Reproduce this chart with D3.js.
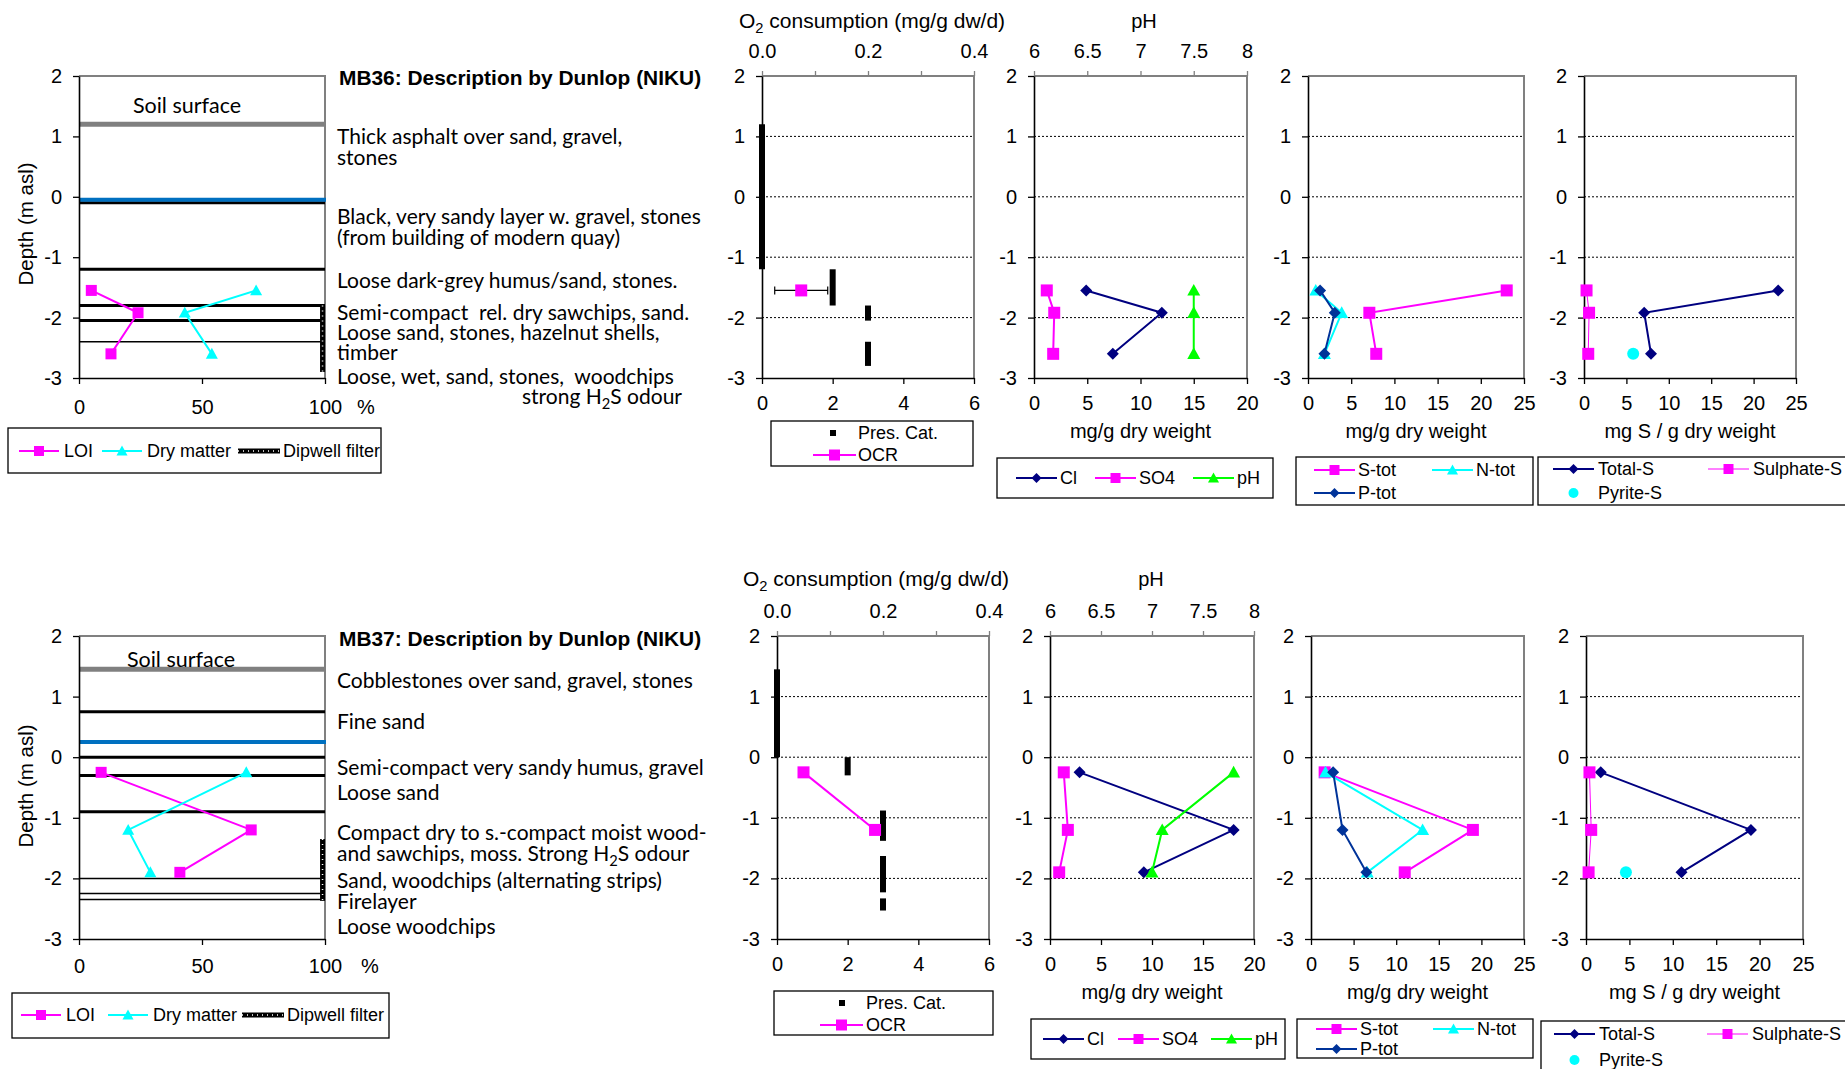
<!DOCTYPE html>
<html>
<head>
<meta charset="utf-8">
<script src="https://cdn.jsdelivr.net/npm/d3@7"></script>
<style>
body { margin: 0; background: #fff; }
text { fill: #000; }
</style>
</head>
<body>
<div id="chart"></div>
<script>
var width = 1845;
var height = 1069;

var ARIAL = "'Liberation Sans', Arial, sans-serif";
var CALIBRI = "Lato, 'Open Sans', sans-serif";

// Shared ticks
var depthTicks = [2, 1, 0, -1, -2, -3];
var gridDepths = [1, 0, -1, -2];
var percentTicks = [0, 50, 100];
var presTicks = [0, 2, 4, 6];
var o2Ticks = [0, 0.1, 0.2, 0.3, 0.4];
var o2Labels = [0, 0.2, 0.4];
var pHTicks = [6, 6.5, 7, 7.5, 8];
var ionTicks = [0, 5, 10, 15, 20];
var nutTicks = [0, 5, 10, 15, 20, 25];

// ---- MB36 ----
var mb36Depth = [-1.55, -1.92, -2.6];
var mb36LOI = [5, 24, 13];
var mb36DryMatter = [72, 43, 54];
var mb36OCR = [0.074];
var mb36OCRDepth = [-1.55];
var mb36OCRError = [0.05];
var mb36PresCat = [0, 2, 3, 3];
var mb36PresFrom = [1.2, -1.2, -1.8, -2.4];
var mb36PresTo = [-1.2, -1.8, -2.05, -2.8];
var mb36Cl = [4.9, 12, 7.4];
var mb36SO4 = [1.2, 1.9, 1.8];
var mb36pH = [7.5, 7.5, 7.5];
var mb36Stot = [23, 7.1, 7.9];
var mb36Ntot = [0.9, 3.9, 1.9];
var mb36Ptot = [1.4, 3.1, 1.9];
var mb36TotalS = [22.9, 7.1, 7.9];
var mb36SulphateS = [0.3, 0.6, 0.5];
var mb36PyriteS = [null, null, 5.8];
var mb36Surface = 1.2;
var mb36Water = -0.05;
var mb36MajorLayers = [-0.1, -1.2, -1.8, -2.05];
var mb36MinorLayers = [-2.4];
var mb36Dipwell = [-1.8, -2.9];
var mb36SurfaceLabel = 1.52;
var mb36Desc = ["Thick asphalt over sand, gravel,", "stones",
    "Black, very sandy layer w. gravel, stones", "(from building of modern quay)",
    "Loose dark-grey humus/sand, stones.", "Semi-compact  rel. dry sawchips, sand.",
    "Loose sand, stones, hazelnut shells,", "timber",
    "Loose, wet, sand, stones,  woodchips", "strong H_2S odour"];
var mb36DescDepth = [0.99, 0.64, -0.33, -0.67, -1.38, -1.91, -2.25, -2.58, -2.98, -3.31];

// ---- MB37 ----
var mb37Depth = [-0.25, -1.2, -1.9];
var mb37LOI = [9, 70, 41];
var mb37DryMatter = [68, 20, 29];
var mb37OCR = [0.05, 0.185];
var mb37OCRDepth = [-0.25, -1.2];
var mb37OCRError = [0, 0];
var mb37PresCat = [0, 2, 3, 3, 3];
var mb37PresFrom = [1.45, 0, -0.88, -1.63, -2.33];
var mb37PresTo = [0, -0.3, -1.38, -2.23, -2.53];
var mb37Cl = [2.9, 18, 9.2];
var mb37SO4 = [1.35, 1.75, 0.9];
var mb37pH = [7.8, 7.1, 7.0];
var mb37Stot = [1.6, 19, 11];
var mb37Ntot = [1.7, 13.1, 6.6];
var mb37Ptot = [2.6, 3.7, 6.5];
var mb37TotalS = [1.7, 19, 11];
var mb37SulphateS = [0.4, 0.6, 0.3];
var mb37PyriteS = [null, null, 4.6];
var mb37Surface = 1.45;
var mb37Water = 0.25;
var mb37MajorLayers = [0.75, 0, -0.3, -0.9];
var mb37MinorLayers = [-2.0, -2.25, -2.35];
var mb37Dipwell = [-1.35, -2.37];
var mb37SurfaceLabel = 1.62;
var mb37Desc = ["Cobblestones over sand, gravel, stones", "Fine sand",
    "Semi-compact very sandy humus, gravel", "Loose sand",
    "Compact dry to s.-compact moist wood-", "and sawchips, moss. Strong H_2S odour",
    "Sand, woodchips (alternating strips)", "Firelayer", "Loose woodchips"];
var mb37DescDepth = [1.26, 0.59, -0.18, -0.59, -1.24, -1.59, -2.04, -2.38, -2.79];

var boreholes = [
    { title: "MB36: Description by Dunlop (NIKU)", depth: mb36Depth, loi: mb36LOI, dry: mb36DryMatter,
      ocr: mb36OCR, ocrDepth: mb36OCRDepth, ocrErr: mb36OCRError,
      presCat: mb36PresCat, presFrom: mb36PresFrom, presTo: mb36PresTo,
      cl: mb36Cl, so4: mb36SO4, ph: mb36pH, stot: mb36Stot, ntot: mb36Ntot, ptot: mb36Ptot,
      totalS: mb36TotalS, sulphateS: mb36SulphateS, pyriteS: mb36PyriteS,
      surface: mb36Surface, water: mb36Water, major: mb36MajorLayers, minor: mb36MinorLayers,
      dipwell: mb36Dipwell, surfaceLabel: mb36SurfaceLabel, desc: mb36Desc, descDepth: mb36DescDepth },
    { title: "MB37: Description by Dunlop (NIKU)", depth: mb37Depth, loi: mb37LOI, dry: mb37DryMatter,
      ocr: mb37OCR, ocrDepth: mb37OCRDepth, ocrErr: mb37OCRError,
      presCat: mb37PresCat, presFrom: mb37PresFrom, presTo: mb37PresTo,
      cl: mb37Cl, so4: mb37SO4, ph: mb37pH, stot: mb37Stot, ntot: mb37Ntot, ptot: mb37Ptot,
      totalS: mb37TotalS, sulphateS: mb37SulphateS, pyriteS: mb37PyriteS,
      surface: mb37Surface, water: mb37Water, major: mb37MajorLayers, minor: mb37MinorLayers,
      dipwell: mb37Dipwell, surfaceLabel: mb37SurfaceLabel, desc: mb37Desc, descDepth: mb37DescDepth }
];

// Layout for each row
var layouts = [
    { top: 76, bottom: 378, profile: [79, 325], o2: [762, 974], ph: [1034, 1247], nut: [1308, 1524], sul: [1584, 1796],
      titleY: 78, surfaceX: 187, depthLabelY: 224, pctPad: 16, pctX: 357, headY: 21, o2TitleX: 872, phTitleX: 1144, xTitleY: 431,
      profLegend: { box: [8, 428, 373, 45], y: 451, xs: [19, 102, 238] },
      o2Legend: { box: [771, 421, 202, 45], ys: [433, 455], mx: 833, tx: 858, line: [813, 856] },
      phLegend: { box: [997, 458, 276, 40], y: 478, xs: [1016, 1095, 1193] },
      nutLegend: { box: [1296, 457, 237, 48], ys: [470, 493], xs: [1314, 1432] },
      sulLegend: { box: [1538, 457, 320, 48], ys: [469, 493], xs: [1553, 1708] } },
    { top: 636, bottom: 939, profile: [79, 325], o2: [777, 989], ph: [1050, 1254], nut: [1311, 1524], sul: [1586, 1803],
      titleY: 639, surfaceX: 181, depthLabelY: 786, pctPad: 14, pctX: 361, headY: 579, o2TitleX: 876, phTitleX: 1151, xTitleY: 992,
      profLegend: { box: [12, 993, 377, 45], y: 1015, xs: [21, 108, 242] },
      o2Legend: { box: [774, 991, 219, 44], ys: [1003, 1025], mx: 842, tx: 866, line: [820, 863] },
      phLegend: { box: [1031, 1019, 254, 40], y: 1039, xs: [1043, 1118, 1211] },
      nutLegend: { box: [1297, 1019, 236, 39], ys: [1029, 1049], xs: [1316, 1433] },
      sulLegend: { box: [1541, 1021, 320, 60], ys: [1034, 1060], xs: [1554, 1707] } }
];

var MAGENTA = "#ff00ff", CYAN = "#00ffff", NAVY = "#000080", GREEN = "#00ff00",
    PBLUE = "#003399", WATER = "#0070c0", GRAY = "#808080";

var svg = d3.select("#chart").append("svg")
    .attr("width", width)
    .attr("height", height)
    .style("background", "#fff");

boreholes.forEach(function(b, i) {
    drawRow(b, layouts[i]);
});

/* ------------------ helpers ------------------ */

function translate(x, y) {
    return "translate(" + x + "," + y + ")";
}

function shapePath(shape, s) {
    if (shape == "square") {
        return "M" + (-s) + "," + (-s) + "h" + (2 * s) + "v" + (2 * s) + "h" + (-2 * s) + "Z";
    }
    if (shape == "diamond") {
        return "M0," + (-s) + "L" + s + ",0L0," + s + "L" + (-s) + ",0Z";
    }
    if (shape == "triangle") {
        return "M0," + (-s) + "L" + s + "," + (s * 0.8) + "L" + (-s) + "," + (s * 0.8) + "Z";
    }
    return d3.symbol(d3.symbolCircle, Math.PI * s * s)();
}

// text with "_2" meaning a subscript 2
function richText(sel, str) {
    var parts = str.split("_2");
    parts.forEach(function(p, i) {
        if (i > 0) {
            sel.append("tspan").attr("dy", 5).attr("font-size", "0.7em").text("2");
        }
        sel.append("tspan").attr("dy", i > 0 ? -5 : null).text(p);
    });
    return sel;
}

function drawSeries(g, x, y, values, depths, color, shape, size, lw) {
    var pts = [];
    values.forEach(function(v, i) {
        if (v != null) pts.push([x(v), y(depths[i])]);
    });
    if (lw > 0 && pts.length > 1) {
        g.append("path")
            .attr("d", d3.line()(pts))
            .attr("fill", "none")
            .attr("stroke", color)
            .attr("stroke-width", lw);
    }
    g.selectAll(null).data(pts).enter().append("path")
        .attr("transform", function(d) { return translate(d[0], d[1]); })
        .attr("d", shapePath(shape, size))
        .attr("fill", color);
}

function styleAxis(ax, size) {
    ax.attr("font-family", ARIAL).attr("font-size", size || 20);
    ax.selectAll("text").attr("fill", "#000");
    ax.selectAll(".tick line").attr("stroke", "#000").attr("stroke-width", 1.3);
    ax.select(".domain").attr("stroke", "#000").attr("stroke-width", 1.6);
    return ax;
}

function fmt(d) { return String(d); }

// plot frame with dotted grid, gray top/right border, black left axis and bottom axis
function frame(g, x, y, xTicks, grid) {
    var x0 = x.range()[0], x1 = x.range()[1], y0 = y.range()[0], y1 = y.range()[1];
    if (grid) {
        g.selectAll(null).data(gridDepths).enter().append("line")
            .attr("x1", x0).attr("x2", x1)
            .attr("y1", function(d) { return y(d); })
            .attr("y2", function(d) { return y(d); })
            .attr("stroke", "#000")
            .attr("stroke-width", 1)
            .attr("stroke-dasharray", "2,2");
    }
    g.append("path")
        .attr("d", "M" + x0 + "," + y0 + "H" + x1 + "V" + y1)
        .attr("fill", "none")
        .attr("stroke", GRAY)
        .attr("stroke-width", 2);
    styleAxis(g.append("g").attr("transform", translate(x0, 0))
        .call(d3.axisLeft(y).tickValues(depthTicks).tickSize(6).tickPadding(11).tickSizeOuter(0).tickFormat(fmt)));
    return styleAxis(g.append("g").attr("transform", translate(0, y1))
        .call(d3.axisBottom(x).tickValues(xTicks).tickSize(6).tickPadding(12).tickSizeOuter(0).tickFormat(fmt)));
}

function legendBox(g, box) {
    g.append("rect")
        .attr("x", box[0]).attr("y", box[1])
        .attr("width", box[2]).attr("height", box[3])
        .attr("fill", "#fff")
        .attr("stroke", "#000")
        .attr("stroke-width", 1.3);
}

function legendItem(g, x, y, label, color, shape, size, lineLen, lw, textGap, fontSize) {
    if (lineLen > 0) {
        g.append("line")
            .attr("x1", x).attr("x2", x + lineLen)
            .attr("y1", y).attr("y2", y)
            .attr("stroke", color)
            .attr("stroke-width", lw);
    }
    if (shape) {
        g.append("path")
            .attr("transform", translate(x + lineLen / 2, y))
            .attr("d", shapePath(shape, size))
            .attr("fill", color);
    }
    g.append("text")
        .attr("x", x + lineLen + textGap)
        .attr("y", y)
        .attr("dy", "0.35em")
        .attr("font-family", ARIAL)
        .attr("font-size", fontSize || 18)
        .text(label);
}

function xTitle(g, x, y, label) {
    g.append("text")
        .attr("x", (x.range()[0] + x.range()[1]) / 2)
        .attr("y", y)
        .attr("dy", "0.35em")
        .attr("text-anchor", "middle")
        .attr("font-family", ARIAL)
        .attr("font-size", 20)
        .text(label);
}

/* ------------------ a row of panels ------------------ */

function drawRow(b, L) {
    var g = svg.append("g");
    var y = d3.scaleLinear().domain([2, -3]).range([L.top, L.bottom]);

    drawProfile(g, b, L, y);
    drawO2(g, b, L, y);
    drawIons(g, b, L, y);
    drawNutrients(g, b, L, y);
    drawSulphur(g, b, L, y);
}

function drawProfile(g, b, L, y) {
    var x = d3.scaleLinear().domain([0, 100]).range(L.profile);
    var x0 = L.profile[0], x1 = L.profile[1];

    // border
    g.append("path")
        .attr("d", "M" + x0 + "," + y(2) + "H" + x1 + "V" + y(-3))
        .attr("fill", "none")
        .attr("stroke", GRAY)
        .attr("stroke-width", 2);

    // layer boundaries
    g.selectAll(null).data(b.minor).enter().append("line")
        .attr("x1", x0).attr("x2", x1)
        .attr("y1", function(d) { return y(d); }).attr("y2", function(d) { return y(d); })
        .attr("stroke", "#000").attr("stroke-width", 1.5);
    g.selectAll(null).data(b.major).enter().append("line")
        .attr("x1", x0).attr("x2", x1)
        .attr("y1", function(d) { return y(d); }).attr("y2", function(d) { return y(d); })
        .attr("stroke", "#000").attr("stroke-width", 3);
    g.append("line")
        .attr("x1", x0).attr("x2", x1 + 1)
        .attr("y1", y(b.water)).attr("y2", y(b.water))
        .attr("stroke", WATER).attr("stroke-width", 4);
    g.append("line")
        .attr("x1", x0).attr("x2", x1 + 1)
        .attr("y1", y(b.surface)).attr("y2", y(b.surface))
        .attr("stroke", GRAY).attr("stroke-width", 5);

    // axes
    styleAxis(g.append("g").attr("transform", translate(x0, 0))
        .call(d3.axisLeft(y).tickValues(depthTicks).tickSize(6).tickPadding(11).tickSizeOuter(0).tickFormat(fmt)));
    styleAxis(g.append("g").attr("transform", translate(0, y(-3)))
        .call(d3.axisBottom(x).tickValues(percentTicks).tickSize(6).tickPadding(L.pctPad).tickSizeOuter(0).tickFormat(fmt)));
    g.append("text")
        .attr("x", L.pctX).attr("y", y(-3) + 6 + L.pctPad)
        .attr("dy", "0.71em")
        .attr("font-family", ARIAL).attr("font-size", 20)
        .text("%");

    g.append("text")
        .attr("transform", translate(26, L.depthLabelY) + " rotate(-90)")
        .attr("dy", "0.35em")
        .attr("text-anchor", "middle")
        .attr("font-family", ARIAL).attr("font-size", 20.5)
        .text("Depth (m asl)");

    // dipwell filter
    g.append("line")
        .attr("x1", x(99)).attr("x2", x(99))
        .attr("y1", y(b.dipwell[0])).attr("y2", y(b.dipwell[1]))
        .attr("stroke", "#000").attr("stroke-width", 5);
    g.append("line")
        .attr("x1", x(99)).attr("x2", x(99))
        .attr("y1", y(b.dipwell[0])).attr("y2", y(b.dipwell[1]))
        .attr("stroke", "#fff").attr("stroke-width", 1.5)
        .attr("stroke-dasharray", "1,4");

    drawSeries(g, x, y, b.loi, b.depth, MAGENTA, "square", 5.5, 2);
    drawSeries(g, x, y, b.dry, b.depth, CYAN, "triangle", 6, 2);

    // labels
    g.append("text")
        .attr("x", L.surfaceX).attr("y", y(b.surfaceLabel))
        .attr("dy", "0.35em").attr("text-anchor", "middle")
        .attr("font-family", CALIBRI).attr("font-size", 21.5)
        .text("Soil surface");
    g.append("text")
        .attr("x", 339).attr("y", L.titleY)
        .attr("dy", "0.35em")
        .attr("font-family", ARIAL).attr("font-size", 20.9).attr("font-weight", "bold")
        .text(b.title);

    b.desc.forEach(function(d, i) {
        var last = (d.indexOf("strong") == 0);
        var t = g.append("text")
            .attr("x", last ? 682 : 337)
            .attr("y", y(b.descDepth[i]))
            .attr("dy", "0.35em")
            .attr("text-anchor", last ? "end" : "start")
            .style("white-space", "pre")
            .attr("font-family", CALIBRI).attr("font-size", 21);
        richText(t, d);
    });

    // legend
    var lg = L.profLegend;
    legendBox(g, lg.box);
    legendItem(g, lg.xs[0], lg.y, "LOI", MAGENTA, "square", 5, 40, 2, 5);
    legendItem(g, lg.xs[1], lg.y, "Dry matter", CYAN, "triangle", 5.5, 40, 2, 5);
    g.append("line")
        .attr("x1", lg.xs[2]).attr("x2", lg.xs[2] + 42)
        .attr("y1", lg.y).attr("y2", lg.y)
        .attr("stroke", "#000").attr("stroke-width", 5);
    g.append("line")
        .attr("x1", lg.xs[2]).attr("x2", lg.xs[2] + 42)
        .attr("y1", lg.y).attr("y2", lg.y)
        .attr("stroke", "#fff").attr("stroke-width", 1.5)
        .attr("stroke-dasharray", "1,4");
    g.append("text")
        .attr("x", lg.xs[2] + 45).attr("y", lg.y).attr("dy", "0.35em")
        .attr("font-family", ARIAL).attr("font-size", 18)
        .text("Dipwell filter");
}

function drawO2(g, b, L, y) {
    var x = d3.scaleLinear().domain([0, 6]).range(L.o2);
    var x2 = d3.scaleLinear().domain([0, 0.4]).range(L.o2);

    frame(g, x, y, presTicks, true);

    var top = g.append("g").attr("transform", translate(0, y(2)))
        .call(d3.axisTop(x2).tickValues(o2Ticks).tickSize(5).tickPadding(13).tickSizeOuter(0)
            .tickFormat(function(d) { return o2Labels.indexOf(d) >= 0 ? d.toFixed(1) : ""; }));
    styleAxis(top);
    top.select(".domain").remove();
    top.selectAll(".tick line").attr("stroke", GRAY);

    g.append("text")
        .attr("x", L.o2TitleX).attr("y", L.headY).attr("dy", "0.35em")
        .attr("text-anchor", "middle")
        .attr("font-family", ARIAL).attr("font-size", 21)
        .call(richText, "O_2 consumption (mg/g dw/d)");

    // preservation category bars
    b.presCat.forEach(function(c, i) {
        g.append("line")
            .attr("x1", x(c)).attr("x2", x(c))
            .attr("y1", y(b.presFrom[i])).attr("y2", y(b.presTo[i]))
            .attr("stroke", "#000").attr("stroke-width", 6);
    });

    // error bars
    b.ocr.forEach(function(v, i) {
        var e = b.ocrErr[i];
        if (e > 0) {
            var yy = y(b.ocrDepth[i]);
            g.append("path")
                .attr("d", "M" + x2(v - e) + "," + yy + "H" + x2(v + e) +
                    "M" + x2(v - e) + "," + (yy - 4) + "V" + (yy + 4) +
                    "M" + x2(v + e) + "," + (yy - 4) + "V" + (yy + 4))
                .attr("stroke", "#000").attr("stroke-width", 1.2).attr("fill", "none");
        }
    });
    drawSeries(g, x2, y, b.ocr, b.ocrDepth, MAGENTA, "square", 6, 2);

    var lg = L.o2Legend;
    legendBox(g, lg.box);
    g.append("path")
        .attr("transform", translate(lg.mx, lg.ys[0]))
        .attr("d", shapePath("square", 3))
        .attr("fill", "#000");
    g.append("text")
        .attr("x", lg.tx).attr("y", lg.ys[0]).attr("dy", "0.35em")
        .attr("font-family", ARIAL).attr("font-size", 18)
        .text("Pres. Cat.");
    legendItem(g, lg.line[0], lg.ys[1], "OCR", MAGENTA, "square", 5.5, lg.line[1] - lg.line[0], 2, lg.tx - lg.line[1]);
}

function drawIons(g, b, L, y) {
    var x = d3.scaleLinear().domain([0, 20]).range(L.ph);
    var xp = d3.scaleLinear().domain([6, 8]).range(L.ph);

    frame(g, x, y, ionTicks, true);

    var top = g.append("g").attr("transform", translate(0, y(2)))
        .call(d3.axisTop(xp).tickValues(pHTicks).tickSize(5).tickPadding(13).tickSizeOuter(0).tickFormat(fmt));
    styleAxis(top);
    top.select(".domain").remove();
    top.selectAll(".tick line").attr("stroke", GRAY);

    g.append("text")
        .attr("x", L.phTitleX).attr("y", L.headY).attr("dy", "0.35em")
        .attr("text-anchor", "middle")
        .attr("font-family", ARIAL).attr("font-size", 20)
        .text("pH");
    xTitle(g, x, L.xTitleY, "mg/g dry weight");

    drawSeries(g, x, y, b.cl, b.depth, NAVY, "diamond", 6, 2);
    drawSeries(g, x, y, b.so4, b.depth, MAGENTA, "square", 6, 2);
    drawSeries(g, xp, y, b.ph, b.depth, GREEN, "triangle", 6.5, 2);

    var lg = L.phLegend;
    legendBox(g, lg.box);
    legendItem(g, lg.xs[0], lg.y, "Cl", NAVY, "diamond", 5, 41, 2, 3);
    legendItem(g, lg.xs[1], lg.y, "SO4", MAGENTA, "square", 5, 41, 2, 3);
    legendItem(g, lg.xs[2], lg.y, "pH", GREEN, "triangle", 5.5, 41, 2, 3);
}

function drawNutrients(g, b, L, y) {
    var x = d3.scaleLinear().domain([0, 25]).range(L.nut);

    frame(g, x, y, nutTicks, true);
    xTitle(g, x, L.xTitleY, "mg/g dry weight");

    drawSeries(g, x, y, b.stot, b.depth, MAGENTA, "square", 6, 2);
    drawSeries(g, x, y, b.ntot, b.depth, CYAN, "triangle", 6.5, 2);
    drawSeries(g, x, y, b.ptot, b.depth, PBLUE, "diamond", 6, 2);

    var lg = L.nutLegend;
    legendBox(g, lg.box);
    legendItem(g, lg.xs[0], lg.ys[0], "S-tot", MAGENTA, "square", 5, 41, 2, 3);
    legendItem(g, lg.xs[1], lg.ys[0], "N-tot", CYAN, "triangle", 5.5, 41, 2, 3);
    legendItem(g, lg.xs[0], lg.ys[1], "P-tot", PBLUE, "diamond", 5, 41, 2, 3);
}

function drawSulphur(g, b, L, y) {
    var x = d3.scaleLinear().domain([0, 25]).range(L.sul);

    frame(g, x, y, nutTicks, true);
    xTitle(g, x, L.xTitleY, "mg S / g dry weight");

    drawSeries(g, x, y, b.totalS, b.depth, NAVY, "diamond", 6, 2);
    drawSeries(g, x, y, b.sulphateS, b.depth, MAGENTA, "square", 6, 1);
    drawSeries(g, x, y, b.pyriteS, b.depth, CYAN, "circle", 6, 0);

    var lg = L.sulLegend;
    legendBox(g, lg.box);
    legendItem(g, lg.xs[0], lg.ys[0], "Total-S", NAVY, "diamond", 5, 41, 2, 4);
    legendItem(g, lg.xs[1], lg.ys[0], "Sulphate-S", MAGENTA, "square", 5, 41, 1, 4);
    legendItem(g, lg.xs[0], lg.ys[1], "Pyrite-S", CYAN, "circle", 5, 41, 0, 4);
}
</script>
</body>
</html>
